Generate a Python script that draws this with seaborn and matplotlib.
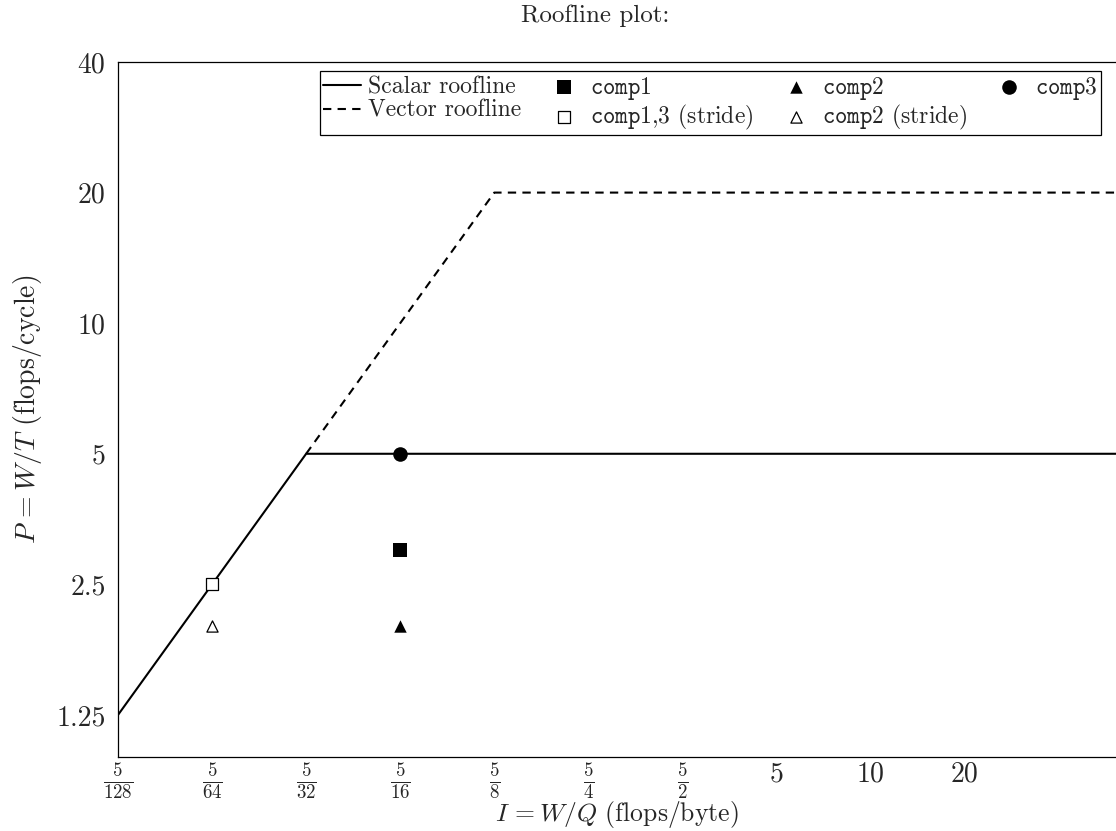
import numpy as np
import pandas as pd
import matplotlib
matplotlib.use("Agg")
import matplotlib.pyplot as plt
import seaborn as sns

# Roofline vertices: intensity I (flops/byte) and performance P (flops/cycle)
scalar_I = [5/128, 5/32, 61]
scalar_P = [1.25, 5, 5]
vector_I = [5/32, 5/8, 61]
vector_P = [5, 20, 20]

# Measured kernels
kernel_labels = [r"$\mathtt{comp1}$", r"$\mathtt{comp2}$", r"$\mathtt{comp3}$",
                 r"$\mathtt{comp1{,}3}$ (stride)", r"$\mathtt{comp2}$ (stride)"]
kernel_I = [5/16, 5/16, 5/16, 5/64, 5/64]
kernel_P = [3.0, 2.0, 5.0, 2.5, 2.0]
kernel_marker = ["s", "^", "o", "s", "^"]
kernel_filled = [True, True, True, False, False]

x_ticks = [5/128, 5/64, 5/32, 5/16, 5/8, 5/4, 5/2, 5, 10, 20]
x_ticklabels = [r"$\frac{5}{128}$", r"$\frac{5}{64}$", r"$\frac{5}{32}$", r"$\frac{5}{16}$",
                r"$\frac{5}{8}$", r"$\frac{5}{4}$", r"$\frac{5}{2}$", "5", "10", "20"]
y_ticks = [1.25, 2.5, 5, 10, 20, 40]
y_ticklabels = ["1.25", "2.5", "5", "10", "20", "40"]

sns.set_theme(style="white")
plt.rcParams["font.family"] = ["cmr10", "DejaVu Serif"]
plt.rcParams["mathtext.fontset"] = "cm"
plt.rcParams["axes.formatter.use_mathtext"] = True

fig = plt.figure(figsize=(11.16, 8.31), dpi=100)
ax = fig.add_axes([118/1116, 74/831, 998/1116, 695/831])

sns.lineplot(x=scalar_I, y=scalar_P, ax=ax, color="black", lw=1.5,
             label="Scalar roofline", sort=False)
sns.lineplot(x=vector_I, y=vector_P, ax=ax, color="black", lw=1.5,
             label="Vector roofline", sort=False)
ax.lines[1].set_dashes((4, 3))

for lab, xi, yi, m, filled in zip(kernel_labels, kernel_I, kernel_P, kernel_marker, kernel_filled):
    size = 110 if m == "o" else (100 if m == "s" else 80)
    if not filled:
        size = 85 if m == "s" else 65
    sns.scatterplot(x=[xi], y=[yi], ax=ax, marker=m, s=size,
                    color="black" if filled else "white",
                    edgecolor="black", linewidth=0 if filled else 0.9,
                    label=lab, zorder=3)

ax.set_xscale("log", base=2)
ax.set_yscale("log", base=2)
ax.set_xlim(5/128, 61)
ax.set_ylim(1, 40)
ax.set_xticks(x_ticks)
ax.set_xticklabels(x_ticklabels)
ax.set_yticks(y_ticks)
ax.set_yticklabels(y_ticklabels)
ax.minorticks_off()
ax.tick_params(axis="both", direction="in", length=8, width=0.8, color="#888888",
               labelsize=20, pad=9)
ax.tick_params(axis="x", pad=3)
for t in ax.get_xticklabels():
    if "frac" in t.get_text():
        t.set_fontsize(19.5)

for side in ["left", "bottom", "top"]:
    ax.spines[side].set_color("black")
    ax.spines[side].set_linewidth(0.9)
ax.spines["right"].set_visible(False)

ax.set_xlabel(r"$I\,= W/Q$ (flops/byte)", fontsize=18.5)
ax.xaxis.label.set_va("center")
ax.xaxis.set_label_coords(0.5, -57/695)
ax.set_ylabel(r"$P\,= W/T$ (flops/cycle)", fontsize=20)
ax.yaxis.label.set_va("center")
ax.yaxis.set_label_coords(-90/998, 0.5)
ax.set_title("Roofline plot:", fontsize=18, x=0.478, pad=29)

handles, labels = ax.get_legend_handles_labels()
order = [0, 1, 2, 5, 3, 6, 4]
leg = ax.legend([handles[i] for i in order], [labels[i] for i in order],
                ncol=4, loc="upper right", bbox_to_anchor=(1 - 15/998, 1 - 9/695),
                borderaxespad=0, fontsize=17, frameon=True, fancybox=False, framealpha=1,
                edgecolor="black", handlelength=1.6, handletextpad=0.3,
                columnspacing=1.0, borderpad=0.15, labelspacing=0.05)
leg.get_frame().set_linewidth(0.9)

fig.savefig("out.png", dpi=100)
